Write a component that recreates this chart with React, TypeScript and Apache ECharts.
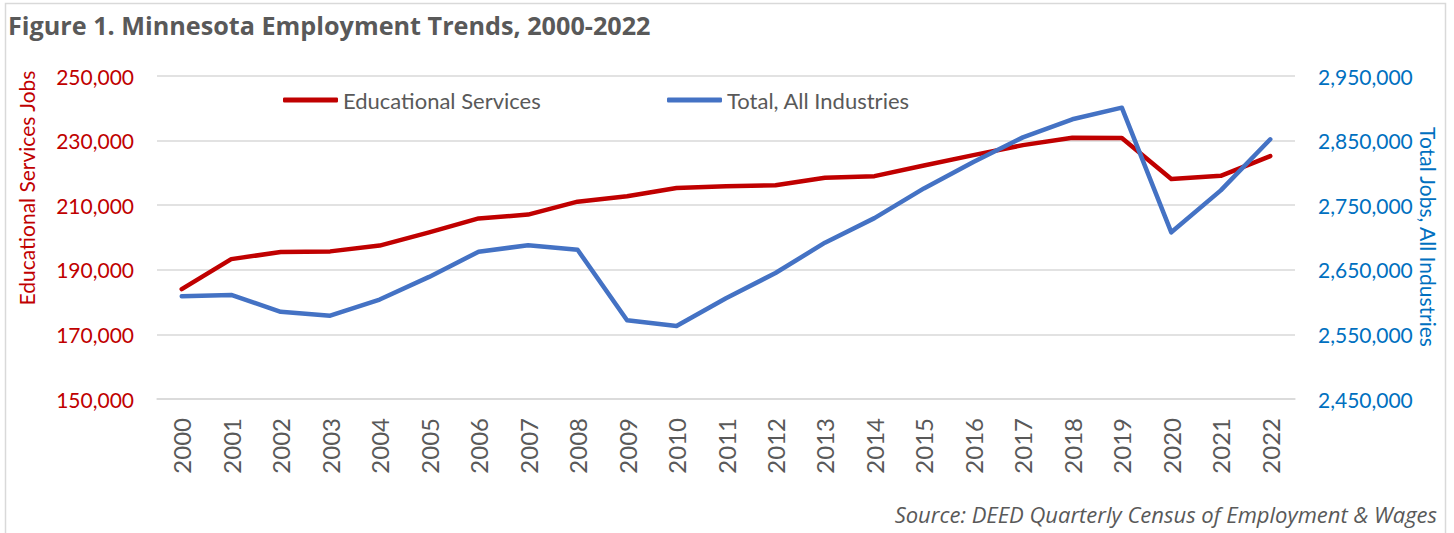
import React, { useEffect, useRef } from "react";
import * as echarts from "echarts";

const years = ["2000","2001","2002","2003","2004","2005","2006","2007","2008","2009","2010","2011","2012","2013","2014","2015","2016","2017","2018","2019","2020","2021","2022"];
const educationalServices = [184000,193300,195500,195700,197500,201600,205900,207100,211100,212800,215300,215900,216200,218500,219000,222300,225500,228600,230900,230800,218100,219100,225200];
const totalAllIndustries = [2609000,2611000,2585000,2579000,2604000,2639000,2678000,2688000,2681000,2572000,2563000,2606000,2645000,2692000,2730000,2776000,2817000,2855000,2883000,2901000,2708000,2773000,2852000];
const leftTicks = { min: 150000, max: 250000, interval: 20000 };
const rightTicks = { min: 2450000, max: 2950000, interval: 100000 };

const FONT = "Lato, 'Open Sans', sans-serif";
const FONT2 = "'Open Sans', Lato, sans-serif";
const GRAY = "#595959";
const RED = "#c00000";
const BLUE_LINE = "#4472c4";
const BLUE_TEXT = "#0070c0";
const GRID = "#d9d9d9";

const fmt = (v: number) => v.toLocaleString("en-US");

export default function App() {
  const ref = useRef<HTMLDivElement>(null);
  useEffect(() => {
    if (!ref.current) return;
    const chart = echarts.init(ref.current, null, { renderer: "svg" });
    const legendBase = {
      top: 89,
      padding: 0,
      itemWidth: 55,
      itemHeight: 5,
      itemGap: 5,
      icon: "roundRect",
      textStyle: { color: GRAY, fontSize: 22, fontFamily: FONT },
    };
    chart.setOption({
      animation: false,
      backgroundColor: "#ffffff",
      textStyle: { fontFamily: FONT },
      grid: { left: 157, right: 159, top: 76, bottom: 134, containLabel: false },
      legend: [
        { ...legendBase, data: ["Educational Services"], left: 283 },
        { ...legendBase, data: ["Total, All Industries"], left: 667 },
      ],
      xAxis: {
        type: "category",
        data: years,
        boundaryGap: true,
        axisLine: { show: true, lineStyle: { color: GRID, width: 1.5 } },
        axisTick: { show: false },
        axisLabel: { rotate: 90, margin: 19, color: GRAY, fontSize: 24, fontFamily: FONT },
      },
      yAxis: [
        {
          type: "value",
          position: "left",
          min: leftTicks.min,
          max: leftTicks.max,
          interval: leftTicks.interval,
          axisLine: { show: false },
          axisTick: { show: false },
          splitLine: { show: true, lineStyle: { color: GRID, width: 1.5 } },
          axisLabel: { color: RED, fontSize: 21, margin: 23, fontFamily: FONT, formatter: fmt },
        },
        {
          type: "value",
          position: "right",
          min: rightTicks.min,
          max: rightTicks.max,
          interval: rightTicks.interval,
          axisLine: { show: false },
          axisTick: { show: false },
          splitLine: { show: false },
          axisLabel: { color: BLUE_TEXT, fontSize: 21, margin: 23, fontFamily: FONT, formatter: fmt },
        },
      ],
      series: [
        {
          name: "Educational Services",
          type: "line",
          yAxisIndex: 0,
          data: educationalServices,
          symbol: "none",
          lineStyle: { color: RED, width: 4.5, cap: "round", join: "round" },
          itemStyle: { color: RED },
          z: 3,
        },
        {
          name: "Total, All Industries",
          type: "line",
          yAxisIndex: 1,
          data: totalAllIndustries,
          symbol: "none",
          lineStyle: { color: BLUE_LINE, width: 4.5, cap: "round", join: "round" },
          itemStyle: { color: BLUE_LINE },
          z: 4,
        },
      ],
      graphic: [
        {
          type: "rect",
          shape: { x: 5.5, y: 3.5, width: 1440, height: 600 },
          style: { fill: "none", stroke: GRID, lineWidth: 1.5 },
          silent: true,
        },
        {
          type: "text",
          x: 8,
          y: 25,
          style: {
            text: "Figure 1. Minnesota Employment Trends, 2000-2022",
            fill: GRAY,
            font: `bold 25.2px ${FONT2}`,
            align: "left",
            verticalAlign: "middle",
          },
        },
        {
          type: "text",
          x: 26,
          y: 188,
          rotation: Math.PI / 2,
          style: {
            text: "Educational Services Jobs",
            fill: RED,
            font: `21px ${FONT}`,
            align: "center",
            verticalAlign: "middle",
          },
        },
        {
          type: "text",
          x: 1428,
          y: 237,
          rotation: -Math.PI / 2,
          style: {
            text: "Total Jobs, All Industries",
            fill: BLUE_TEXT,
            font: `21px ${FONT}`,
            align: "center",
            verticalAlign: "middle",
          },
        },
        {
          type: "text",
          x: 1437,
          y: 514,
          style: {
            text: "Source: DEED Quarterly Census of Employment & Wages",
            fill: GRAY,
            font: `italic 22px ${FONT2}`,
            align: "right",
            verticalAlign: "middle",
          },
        },
      ],
    });
    return () => chart.dispose();
  }, []);
  return (
    <div
      ref={ref}
      style={{ position: "absolute", left: 0, top: 0, width: 1454, height: 533 }}
    />
  );
}
